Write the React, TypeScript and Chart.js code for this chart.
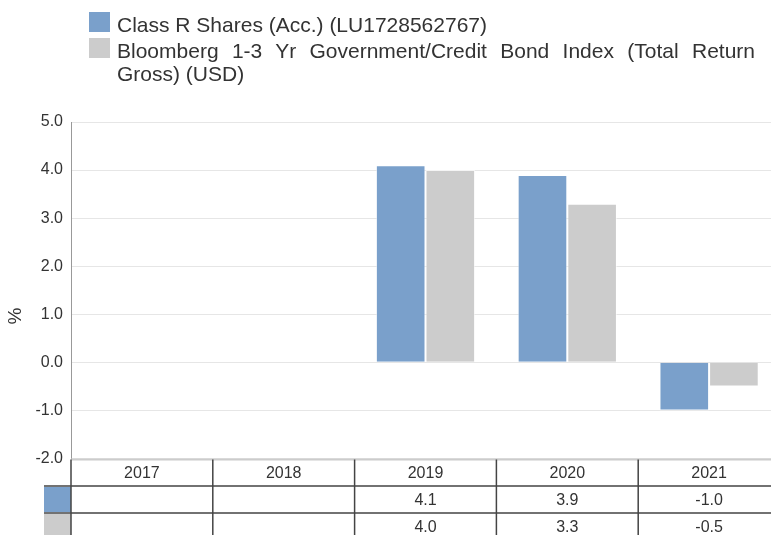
import React, { useEffect, useRef } from "react";
import { Chart, registerables } from "chart.js";

Chart.register(...registerables);

const categories = ["2017", "2018", "2019", "2020", "2021"];
const classR: (number | null)[] = [null, null, 4.1, 3.9, -1.0];
const benchmark: (number | null)[] = [null, null, 4.0, 3.3, -0.5];
const seriesNames = [
  "Class R Shares (Acc.) (LU1728562767)",
  "Bloomberg 1-3 Yr Government/Credit Bond Index (Total Return Gross) (USD)",
];
const seriesColors = ["#7aa0cb", "#cccccc"];
const yTicksMin = -2;
const yTicksMax = 5;
const yTitle = "%";

const FONT = "'Liberation Sans', Arial, sans-serif";
const TEXT = "#333333";

const tablePlugin = {
  id: "dataTable",
  afterDraw(chart: any) {
    const { ctx, chartArea } = chart;
    const { left, right, bottom } = chartArea;
    const n = categories.length;
    const w = (right - left) / n;
    const top = bottom;
    const r1 = top + 27.5;
    const r2 = r1 + 27;
    const r3 = r2 + 30;
    const cellLeft = 44;
    ctx.save();
    // y-axis title
    ctx.save();
    ctx.translate(16, 316);
    ctx.rotate(-Math.PI / 2);
    ctx.fillStyle = TEXT;
    ctx.font = `19px ${FONT}`;
    ctx.textAlign = "center";
    ctx.textBaseline = "middle";
    ctx.fillText(yTitle, 0, 0);
    ctx.restore();
    // top light line
    ctx.strokeStyle = "#cccccc";
    ctx.lineWidth = 2;
    ctx.beginPath();
    ctx.moveTo(left, top + 1);
    ctx.lineTo(right + 20, top + 1);
    ctx.stroke();
    // colour cells
    ctx.fillStyle = seriesColors[0];
    ctx.fillRect(cellLeft, r1 + 1, left - cellLeft, r2 - r1 - 2);
    ctx.fillStyle = seriesColors[1];
    ctx.fillRect(cellLeft, r2 + 1, left - cellLeft, r3 - r2);
    // dark lines
    ctx.strokeStyle = "#444444";
    ctx.lineWidth = 1.5;
    ctx.beginPath();
    ctx.moveTo(cellLeft, r1);
    ctx.lineTo(right + 20, r1);
    ctx.moveTo(cellLeft, r2);
    ctx.lineTo(right + 20, r2);
    for (let i = 0; i <= n; i++) {
      const x = left + i * w;
      ctx.moveTo(x, top + 1);
      ctx.lineTo(x, r3);
    }
    ctx.stroke();
    // text
    ctx.fillStyle = TEXT;
    ctx.font = `16px ${FONT}`;
    ctx.textAlign = "center";
    ctx.textBaseline = "middle";
    const rowsData = [classR, benchmark];
    for (let i = 0; i < n; i++) {
      const cx = left + (i + 0.5) * w;
      ctx.fillText(categories[i], cx, (top + r1) / 2 + 1);
      rowsData.forEach((arr, j) => {
        const v = arr[i];
        if (v === null || v === undefined) return;
        const ry = j === 0 ? (r1 + r2) / 2 : r2 + 13.5;
        ctx.fillText(v.toFixed(1), cx, ry + 1);
      });
    }
    ctx.restore();
  },
};

export default function App() {
  const ref = useRef<HTMLCanvasElement>(null);
  useEffect(() => {
    document.body.style.margin = "0";
    document.body.style.overflow = "hidden";
    const chart = new Chart(ref.current!, {
      type: "bar",
      data: {
        labels: categories,
        datasets: [
          {
            label: seriesNames[0],
            data: classR,
            backgroundColor: seriesColors[0],
            borderColor: "rgba(255,255,255,0.55)",
            borderWidth: 1,
          },
          {
            label: seriesNames[1],
            data: benchmark,
            backgroundColor: seriesColors[1],
            borderColor: "rgba(255,255,255,0.55)",
            borderWidth: 1,
          },
        ],
      },
      options: {
        animation: false,
        responsive: false,
        devicePixelRatio: 1,
        layout: { padding: { top: 122, bottom: 86.5, right: 10, left: 0 } },
        plugins: { legend: { display: false }, tooltip: { enabled: false } },
        datasets: { bar: { categoryPercentage: 0.7, barPercentage: 1.0 } },
        scales: {
          x: {
            type: "category",
            display: false,
            grid: { display: false },
          },
          y: {
            min: yTicksMin,
            max: yTicksMax,
            afterFit: (s: any) => {
              s.width = 71;
            },
            ticks: {
              stepSize: 1,
              padding: 8,
              color: TEXT,
              font: { family: FONT, size: 16 },
              callback: (v: any) => Number(v).toFixed(1),
            },
            grid: { color: "#e6e6e6", drawTicks: false },
            border: { color: "#999999", width: 1 },
            title: { display: false, text: yTitle },
          },
        },
      },
      plugins: [tablePlugin],
    });
    return () => chart.destroy();
  }, []);

  const legendItem = (i: number, mt: number) => (
    <div style={{ display: "flex", alignItems: "flex-start", marginTop: mt }}>
      <div
        style={{
          width: 21,
          height: 20,
          background: seriesColors[i],
          flex: "0 0 auto",
          marginTop: 0,
        }}
      />
      <div
        style={{
          marginLeft: 7,
          width: 638,
          paddingTop: 1,
          lineHeight: "23px",
          textAlign: "justify",
        }}
      >
        {seriesNames[i]}
      </div>
    </div>
  );

  return (
    <div
      style={{
        position: "fixed",
        left: 0,
        top: 0,
        width: 771,
        height: 535,
        overflow: "hidden",
        background: "#fff",
      }}
    >
      <canvas ref={ref} width={790} height={545} style={{ display: "block" }} />
      <div
        style={{
          position: "absolute",
          left: 89,
          top: 12,
          width: 670,
          fontFamily: FONT,
          fontSize: 21,
          color: TEXT,
        }}
      >
        {legendItem(0, 0)}
        {legendItem(1, 2)}
      </div>
    </div>
  );
}
